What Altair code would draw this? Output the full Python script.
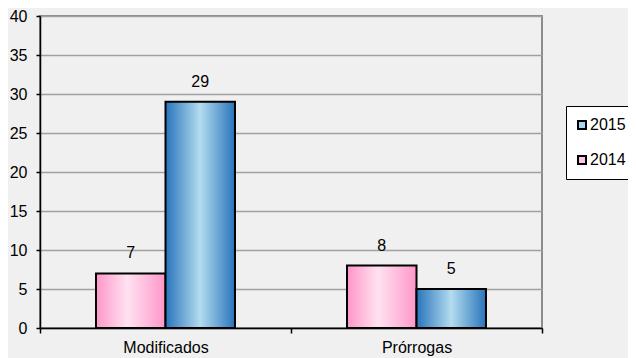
import altair as alt
import pandas as pd

categories = ["Modificados", "Modificados", "Prórrogas", "Prórrogas"]
years = ["2014", "2015", "2014", "2015"]
values = [7, 29, 8, 5]
legend_years = ["2015", "2014"]
legend_colors = ["#a9d5ee", "#ffc6e2"]
y_ticks = [0, 5, 10, 15, 20, 25, 30, 35, 40]

df = pd.DataFrame({"cat": categories, "year": years, "value": values})

FONT = "Liberation Sans"
FS = 16

pink = alt.LinearGradient(
    gradient="linear", x1=0, x2=1, y1=0, y2=0,
    stops=[
        alt.GradientStop(offset=0, color="#ff96c8"),
        alt.GradientStop(offset=0.45, color="#ffe2f1"),
        alt.GradientStop(offset=1, color="#ff96c8"),
    ],
)
blue = alt.LinearGradient(
    gradient="linear", x1=0, x2=1, y1=0, y2=0,
    stops=[
        alt.GradientStop(offset=0, color="#2874bb"),
        alt.GradientStop(offset=0.5, color="#b3dcef"),
        alt.GradientStop(offset=1, color="#2874bb"),
    ],
)

x = alt.X(
    "cat:N", title=None,
    scale=alt.Scale(paddingInner=0, paddingOuter=0),
    axis=alt.Axis(
        labelAngle=0, tickBand="extent", domainColor="black", domainWidth=1.5,
        tickColor="black", tickSize=5, tickWidth=1.5, labelPadding=6, grid=False,
        labelFont=FONT, labelFontSize=FS, labelColor="black",
    ),
)
xo = alt.XOffset(
    "year:N",
    scale=alt.Scale(domain=["2014", "2015"], paddingInner=0, paddingOuter=0.806),
)
y = alt.Y(
    "value:Q", title=None,
    scale=alt.Scale(domain=[0, 40], nice=False),
    axis=alt.Axis(
        values=y_ticks, grid=True, gridColor="#a0a0a0", gridWidth=1.5,
        domainColor="black", domainWidth=1.5, tickColor="black", tickSize=4,
        tickWidth=1.5, labelPadding=9, labelFont=FONT, labelFontSize=FS,
        labelColor="black",
    ),
)

base = alt.Chart(df).encode(x=x, xOffset=xo, y=y)

b14 = base.transform_filter(alt.datum.year == "2014").mark_bar(
    color=pink, stroke="black", strokeWidth=2
)
b15 = base.transform_filter(alt.datum.year == "2015").mark_bar(
    color=blue, stroke="black", strokeWidth=2
)
labels = base.mark_text(
    dy=-20, font=FONT, fontSize=FS, color="black", baseline="middle"
).encode(text="value:Q")

leg = base.mark_square(size=0, filled=True).encode(
    color=alt.Color(
        "year:N",
        scale=alt.Scale(domain=legend_years, range=legend_colors),
        legend=alt.Legend(
            title=None, orient="none", legendX=526, legendY=90,
            fillColor="white", strokeColor="black", padding=11,
            labelFont=FONT, labelFontSize=FS, labelColor="black",
            symbolType="square", symbolSize=64, symbolStrokeColor="black",
            symbolStrokeWidth=2, symbolOpacity=1, rowPadding=19, labelOffset=0,
            symbolOffset=-3,
        ),
    )
)

chart = (
    alt.layer(b14, b15, labels, leg)
    .properties(
        width=502, height=312,
        autosize=alt.AutoSizeParams(type="none"),
        padding={"left": 32, "top": 8, "right": 86, "bottom": 30},
        background="#f0f0f0",
    )
    .configure_view(stroke="#8c8c8c", strokeWidth=2)
)

chart.save("out.html", embed_options={"renderer": "svg", "actions": False})
